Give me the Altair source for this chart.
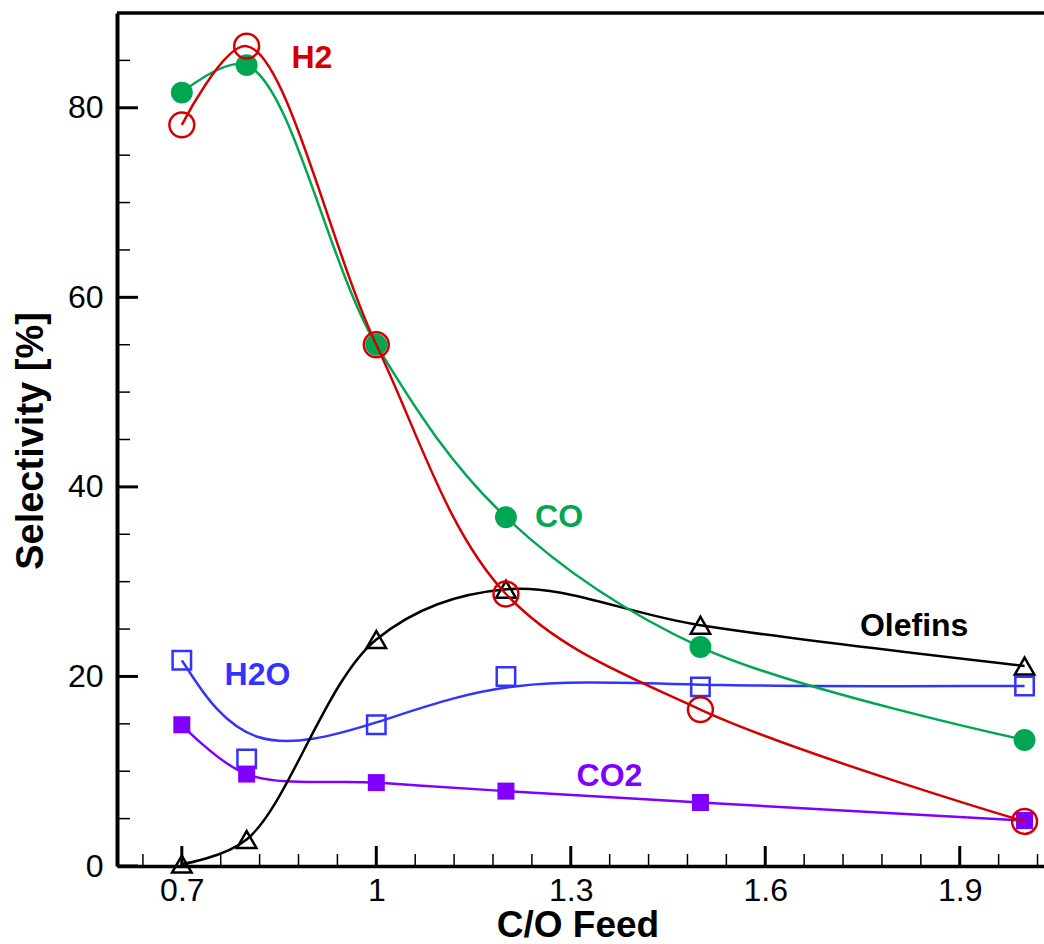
import altair as alt
import pandas as pd

# ---- data ----
co_feed = [0.7, 0.8, 1.0, 1.2, 1.5, 2.0]
h2 = [78.2, 86.5, 55.0, 28.7, 16.5, 4.7]
co = [81.6, 84.5, 55.0, 36.8, 23.1, 13.3]
olefins = [0.2, 2.8, 23.9, 29.2, 25.4, 21.1]
h2o = [21.7, 11.3, 14.9, 20.0, 18.9, 19.0]
co2 = [14.9, 9.7, 8.8, 7.9, 6.7, 4.8]

x_major = [0.7, 1.0, 1.3, 1.6, 1.9]
x_minor = [0.64, 0.76, 0.82, 0.88, 0.94, 1.06, 1.12, 1.18, 1.24, 1.36, 1.42,
           1.48, 1.54, 1.66, 1.72, 1.78, 1.84, 1.96, 2.02]
y_major = [0, 20, 40, 60, 80]
y_minor = [5, 10, 15, 25, 30, 35, 45, 50, 55, 65, 70, 75, 85]

label_names = ["H2", "CO", "Olefins", "H2O", "CO2"]
label_x = [0.869, 1.245, 1.746, 0.766, 1.309]
label_y = [85.3, 36.8, 25.3, 20.1, 9.5]

colors = {"H2": "#D40000", "CO": "#00A651", "Olefins": "#000000",
          "H2O": "#3333FF", "CO2": "#8000FF"}

W, H = 927, 853
XDOM = [0.6, 2.03]
YDOM = [0, 90]

def frame(name, vals):
    return pd.DataFrame({"x": co_feed, "y": vals, "series": name})

FONT = "Liberation Sans"

xs = alt.Scale(domain=XDOM, nice=False, zero=False)
ys = alt.Scale(domain=YDOM, nice=False, zero=False)

x_axis = alt.Axis(values=x_major, format="~g", ticks=False, grid=False,
                  labelFontSize=32, labelFont=FONT, labelColor="black",
                  labelPadding=9, domainColor="black", domainWidth=3.5,
                  title="C/O Feed", titleFontSize=37, titleFont=FONT,
                  titleFontWeight="bold", titleColor="black",
                  titleY=70, titleX=W / 2 - 3, titleBaseline="alphabetic",
                  labelFlush=False)
y_axis = alt.Axis(values=y_major, ticks=False, grid=False,
                  labelFontSize=32, labelFont=FONT, labelColor="black",
                  labelPadding=14, domainColor="black", domainWidth=4,
                  title="Selectivity [%]", titleFontSize=38, titleFont=FONT,
                  titleFontWeight="bold", titleColor="black",
                  titleX=-75, titleY=H / 2 + 1, titleBaseline="alphabetic",
                  labelFlush=False)

def xenc():
    return alt.X("x:Q", scale=xs, axis=x_axis, title="C/O Feed")

def yenc():
    return alt.Y("y:Q", scale=ys, axis=y_axis, title="Selectivity [%]")

layers = []
base_df = frame("H2", h2)

# top border
layers.append(alt.Chart(base_df.head(1)).mark_rule(color="black", strokeWidth=3.5).encode(
    x=alt.value(0), x2=alt.value(W), y=alt.value(0)))

# ticks (inward)
xmaj = pd.DataFrame({"x": x_major})
xmin = pd.DataFrame({"x": x_minor})
ymaj = pd.DataFrame({"y": y_major})
ymin = pd.DataFrame({"y": y_minor})
layers.append(alt.Chart(xmaj).mark_rule(color="black", strokeWidth=3).encode(
    x=xenc(), y=alt.value(H), y2=alt.value(H - 20)))
layers.append(alt.Chart(xmin).mark_rule(color="black", strokeWidth=1.5).encode(
    x=xenc(), y=alt.value(H), y2=alt.value(H - 12)))
layers.append(alt.Chart(ymaj).mark_rule(color="black", strokeWidth=3).encode(
    y=yenc(), x=alt.value(0), x2=alt.value(21)))
layers.append(alt.Chart(ymin).mark_rule(color="black", strokeWidth=1.5).encode(
    y=yenc(), x=alt.value(0), x2=alt.value(13)))

series = [
    ("H2O", h2o, "basis", "square", False, 340),
    ("CO2", co2, "catmull-rom", "square", True, 290),
    ("Olefins", olefins, "catmull-rom", "triangle-up", False, 380),
    ("CO", co, "catmull-rom", "circle", True, 480),
    ("H2", h2, "catmull-rom", "circle", False, 620),
]

for name, vals, interp, shape, filled, size in series:
    df = frame(name, vals)
    c = colors[name]
    layers.append(alt.Chart(df).mark_line(color=c, strokeWidth=2.5,
                                          interpolate=interp).encode(
        x=xenc(), y=yenc()))
    if filled:
        pt = alt.Chart(df).mark_point(shape=shape, filled=True, fill=c,
                                      color=c, opacity=1, size=size)
    else:
        pt = alt.Chart(df).mark_point(shape=shape, filled=False, color=c,
                                      strokeWidth=2.5, opacity=1, size=size)
    layers.append(pt.encode(x=xenc(), y=yenc()))

lab_df = pd.DataFrame({"x": label_x, "y": label_y, "name": label_names})
layers.append(alt.Chart(lab_df).mark_text(font=FONT, fontSize=32, fontWeight="bold",
                                          align="left", baseline="middle").encode(
    x=xenc(), y=yenc(), text="name:N",
    color=alt.Color("name:N", scale=alt.Scale(domain=list(colors.keys()),
                                              range=list(colors.values())),
                    legend=None)))

chart = alt.layer(*layers).properties(
    width=W, height=H,
    autosize=alt.AutoSizeParams(type="none"),
    padding={"left": 117, "top": 13, "right": 0, "bottom": 78},
    background="white",
).configure_view(stroke=None)

chart.save("out.html", embed_options={"renderer": "svg", "actions": False})
